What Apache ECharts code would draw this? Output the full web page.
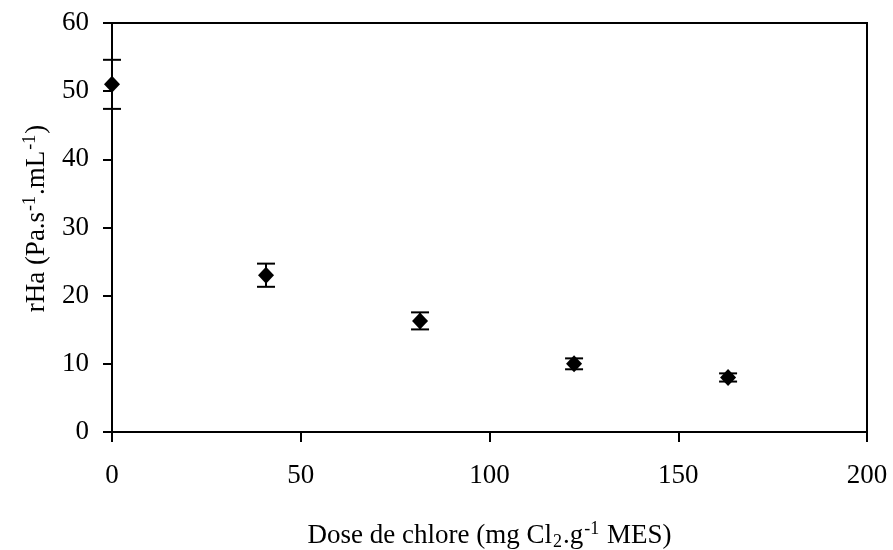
<!DOCTYPE html>
<html>
<head>
<meta charset="utf-8">
<script src="https://cdn.jsdelivr.net/npm/echarts@6/dist/echarts.min.js"></script>
<style>html,body{margin:0;padding:0;background:#fff}#c{width:893px;height:550px}</style>
</head>
<body>
<div id="c"></div>
<script>
var doses = [0, 40.8, 81.6, 122.4, 163.2];
var rHa = [51.0, 23.0, 16.3, 10.0, 8.0];
var errors = [3.6, 1.7, 1.25, 0.8, 0.6];
var xTicks = [0, 50, 100, 150, 200];
var yTicks = [0, 10, 20, 30, 40, 50, 60];

var FONT = '"Liberation Serif", "DejaVu Serif", serif';
var chart = echarts.init(document.getElementById('c'), null, {renderer: 'canvas'});

var points = doses.map(function (d, i) { return [d, rHa[i]]; });
var bars = doses.map(function (d, i) { return [d, rHa[i] - errors[i], rHa[i] + errors[i]]; });

var richBase = {
  a: {fontFamily: FONT, fontSize: 27, color: '#000', lineHeight: 40, verticalAlign: 'top', padding: [5, 0, 0, 0]},
  sup: {fontFamily: FONT, fontSize: 18, color: '#000', lineHeight: 40, verticalAlign: 'top', padding: [3, 1, 0, 1]},
  sub: {fontFamily: FONT, fontSize: 18, color: '#000', lineHeight: 40, verticalAlign: 'top', padding: [16, 1, 0, 1]}
};

chart.setOption({
  animation: false,
  backgroundColor: '#fff',
  grid: {left: 112, right: 26, top: 23, bottom: 118, containLabel: false, outerBoundsMode: 'none',
    show: true, borderColor: '#000', borderWidth: 2, backgroundColor: 'transparent'},
  xAxis: {
    type: 'value', min: 0, max: 200, interval: 50,
    axisLine: {show: true, lineStyle: {color: '#000', width: 2}},
    axisTick: {show: true, inside: false, length: 10, lineStyle: {color: '#000', width: 2}},
    splitLine: {show: false},
    axisLabel: {color: '#000', fontFamily: FONT, fontSize: 27, margin: 30,
      formatter: function (v) { return xTicks.indexOf(v) >= 0 ? String(v) : ''; }},
    name: '{a|Dose de chlore (mg Cl}{sub|2}{a|.g}{sup|-1}{a| MES)}',
    nameLocation: 'middle', nameGap: 85,
    nameTextStyle: {rich: richBase}
  },
  yAxis: {
    type: 'value', min: 0, max: 60, interval: 10,
    axisLine: {show: true, lineStyle: {color: '#000', width: 2}},
    axisTick: {show: true, inside: false, length: 9, lineStyle: {color: '#000', width: 2}},
    splitLine: {show: false},
    axisLabel: {color: '#000', fontFamily: FONT, fontSize: 27, margin: 23,
      formatter: function (v) { return yTicks.indexOf(v) >= 0 ? String(v) : ''; }},
    name: '{a|rHa (Pa.s}{sup|-1}{a|.mL}{sup|-1}{a|)}',
    nameLocation: 'middle', nameGap: 54,
    nameTextStyle: {rich: richBase, padding: [0, 0, 0, 18]}
  },
  series: [
    {
      type: 'custom',
      data: bars,
      z: 3,
      renderItem: function (params, api) {
        var x = api.value(0);
        var lo = api.coord([x, api.value(1)]);
        var hi = api.coord([x, api.value(2)]);
        var hw = 9;
        var st = {stroke: '#000', lineWidth: 2};
        return {
          type: 'group',
          children: [
            {type: 'line', shape: {x1: lo[0], y1: lo[1], x2: hi[0], y2: hi[1]}, style: st},
            {type: 'line', shape: {x1: lo[0] - hw, y1: lo[1], x2: lo[0] + hw, y2: lo[1]}, style: st},
            {type: 'line', shape: {x1: hi[0] - hw, y1: hi[1], x2: hi[0] + hw, y2: hi[1]}, style: st}
          ]
        };
      }
    },
    {
      type: 'scatter',
      data: points,
      symbol: 'diamond',
      symbolSize: [16, 17],
      itemStyle: {color: '#000', opacity: 1},
      z: 4
    }
  ]
});
</script>
</body>
</html>
